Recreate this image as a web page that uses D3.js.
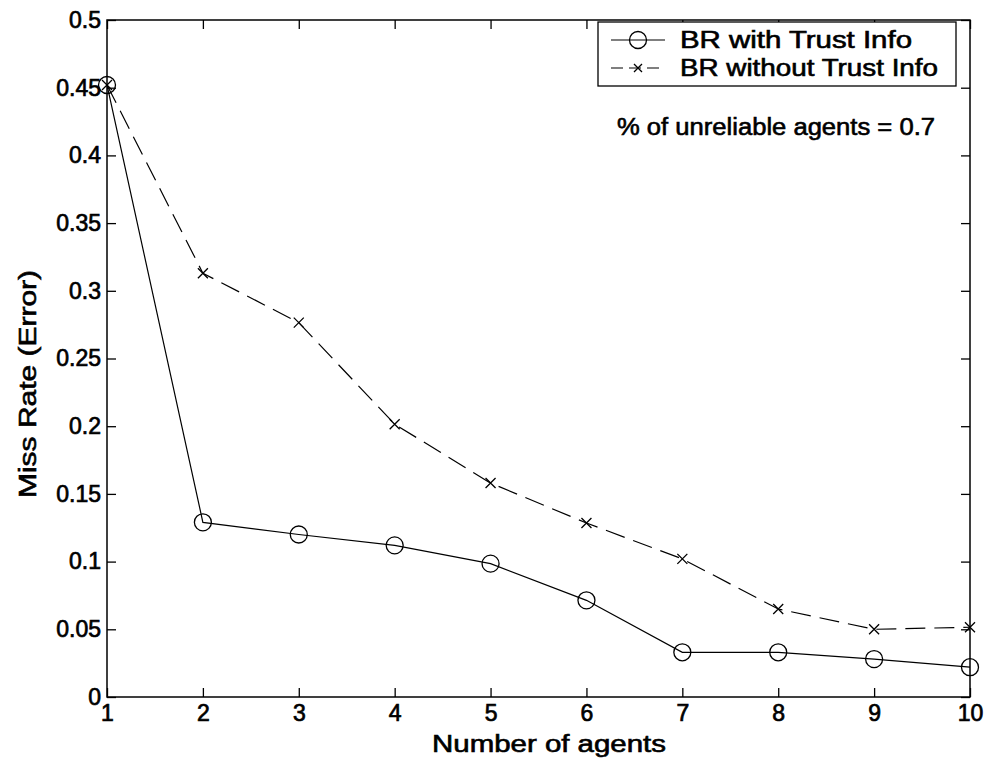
<!DOCTYPE html>
<meta charset="utf-8">
<html>
<head>
<style>
body { margin: 0; background: #fff; }
text { font-family: "Liberation Sans", Arial, sans-serif; fill: #000; }
.axis text { font-size: 23px; stroke: #000; stroke-width: 0.7px; }
.lbl { font-size: 23px; stroke: #000; stroke-width: 0.6px; }
</style>
</head>
<body>
<script src="https://d3js.org/d3.v7.min.js"></script>
<script>

var agents = [1, 2, 3, 4, 5, 6, 7, 8, 9, 10];
var withTrust = [0.452, 0.129, 0.120, 0.112, 0.0985, 0.0714, 0.033, 0.033, 0.028, 0.022];
var withoutTrust = [0.452, 0.313, 0.2765, 0.2015, 0.158, 0.1285, 0.102, 0.065, 0.050, 0.0515];
var yTicks = [0, 0.05, 0.1, 0.15, 0.2, 0.25, 0.3, 0.35, 0.4, 0.45, 0.5];
var seriesNames = ["BR with Trust Info", "BR without Trust Info"];
var note = "% of unreliable agents = 0.7";

var W = 985, H = 761;
var plotL = 107, plotR = 970, plotT = 20, plotB = 697;

var svg = d3.select("body").append("svg")
  .attr("width", W)
  .attr("height", H);

var x = d3.scaleLinear().domain([1, 10]).range([plotL, plotR]);
var y = d3.scaleLinear().domain([0, 0.5]).range([plotB, plotT]);

// frame
svg.append("rect")
  .attr("x", plotL).attr("y", plotT)
  .attr("width", plotR - plotL).attr("height", plotB - plotT)
  .attr("fill", "none").attr("stroke", "#000").attr("stroke-width", 1.5);

// axes, ticks inward
var fmt = function(d) { return String(+d.toFixed(2)); };

svg.append("g").attr("class", "axis")
  .attr("transform", "translate(0," + plotB + ")")
  .call(d3.axisBottom(x).tickValues(agents).tickSize(-9).tickPadding(8).tickFormat(d3.format("d")))
  .call(function(g) { g.select(".domain").remove(); });

svg.append("g")
  .attr("transform", "translate(0," + plotT + ")")
  .call(d3.axisTop(x).tickValues(agents).tickSize(-9).tickFormat(""))
  .call(function(g) { g.select(".domain").remove(); });

svg.append("g").attr("class", "axis")
  .attr("transform", "translate(" + plotL + ",0)")
  .call(d3.axisLeft(y).tickValues(yTicks).tickSize(-9).tickPadding(6).tickFormat(fmt))
  .call(function(g) { g.select(".domain").remove(); });

svg.append("g")
  .attr("transform", "translate(" + plotR + ",0)")
  .call(d3.axisRight(y).tickValues(yTicks).tickSize(-9).tickFormat(""))
  .call(function(g) { g.select(".domain").remove(); });

svg.selectAll(".tick line").attr("stroke", "#000").attr("stroke-width", 1.3);
svg.selectAll(".axis .tick text").attr("fill", "#000");

// axis titles
svg.append("text").attr("class", "lbl")
  .attr("x", 432).attr("y", 752)
  .attr("textLength", 234).attr("lengthAdjust", "spacingAndGlyphs")
  .text("Number of agents");

svg.append("text").attr("class", "lbl")
  .attr("transform", "translate(36,498) rotate(-90)")
  .attr("textLength", 228).attr("lengthAdjust", "spacingAndGlyphs")
  .text("Miss Rate (Error)");

// lines
var line = function(vals) {
  return d3.line()
    .x(function(d, i) { return x(agents[i]); })
    .y(function(d) { return y(d); })(vals);
};

svg.append("path")
  .attr("d", line(withoutTrust))
  .attr("fill", "none").attr("stroke", "#000").attr("stroke-width", 1.2)
  .attr("stroke-dasharray", "20,9");

svg.append("path")
  .attr("d", line(withTrust))
  .attr("fill", "none").attr("stroke", "#000").attr("stroke-width", 1.2);

function cross(g, cx, cy, s) {
  g.append("path")
    .attr("d", "M" + (cx - s) + "," + (cy - s) + "L" + (cx + s) + "," + (cy + s) +
               "M" + (cx - s) + "," + (cy + s) + "L" + (cx + s) + "," + (cy - s))
    .attr("stroke", "#000").attr("stroke-width", 1.3).attr("fill", "none");
}

svg.selectAll(".circ")
  .data(withTrust)
  .enter().append("circle")
  .attr("class", "circ")
  .attr("cx", function(d, i) { return x(agents[i]); })
  .attr("cy", function(d) { return y(d); })
  .attr("r", 8.5)
  .attr("fill", "none").attr("stroke", "#000").attr("stroke-width", 1.3);

var gx = svg.append("g");
withoutTrust.forEach(function(d, i) { cross(gx, x(agents[i]), y(d), 5); });

// legend
var lg = svg.append("g");
lg.append("rect")
  .attr("x", 598).attr("y", 22).attr("width", 358).attr("height", 64)
  .attr("fill", "#fff").attr("stroke", "#000").attr("stroke-width", 1.3);

var rows = [40, 68];
var textLen = [232, 258];
lg.append("line").attr("x1", 611).attr("x2", 665).attr("y1", rows[0]).attr("y2", rows[0])
  .attr("stroke", "#000").attr("stroke-width", 1.2);
lg.append("circle").attr("cx", 638).attr("cy", rows[0]).attr("r", 8.5)
  .attr("fill", "none").attr("stroke", "#000").attr("stroke-width", 1.3);
lg.append("line").attr("x1", 611).attr("x2", 665).attr("y1", rows[1]).attr("y2", rows[1])
  .attr("stroke", "#000").attr("stroke-width", 1.2).attr("stroke-dasharray", "12,6");
cross(lg, 638, rows[1], 4);

seriesNames.forEach(function(n, i) {
  lg.append("text").attr("class", "lbl")
    .attr("x", 680).attr("y", rows[i] + 8)
    .attr("textLength", textLen[i]).attr("lengthAdjust", "spacingAndGlyphs")
    .text(n);
});

svg.append("text").attr("class", "lbl")
  .attr("x", 617).attr("y", 135)
  .attr("textLength", 318).attr("lengthAdjust", "spacingAndGlyphs")
  .text(note);

</script>
</body>
</html>
